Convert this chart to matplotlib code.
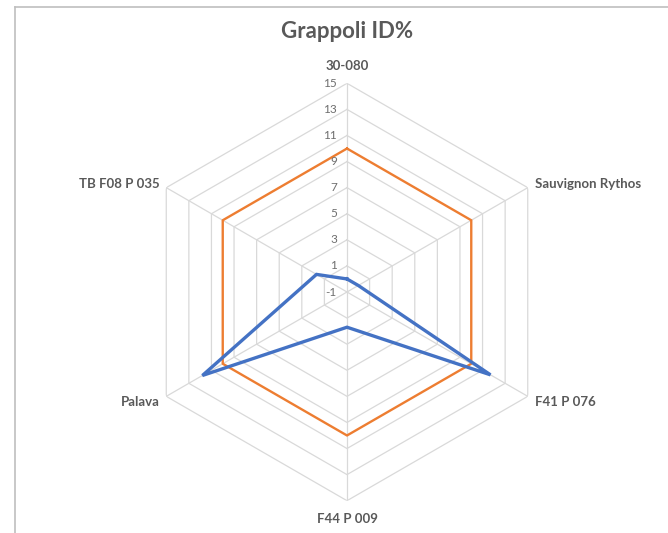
import numpy as np
import matplotlib
matplotlib.use("Agg")
import matplotlib.pyplot as plt
from matplotlib.lines import Line2D

categories = ["30-080", "Sauvignon Rythos", "F41 P 076", "F44 P 009", "Palava", "TB F08 P 035"]
series_orange = [10, 10, 10, 10, 10, 10]
series_blue = [0, 0, 11.7, 1.7, 11.8, 1.7]
tick_values = [-1, 1, 3, 5, 7, 9, 11, 13, 15]
tick_labels = ["-1", "1", "3", "5", "7", "9", "11", "13", "15"]
title = "Grappoli ID%"

plt.rcParams['font.family'] = ['Lato', 'DejaVu Sans']
TXT = "#595959"
GRID = "#d9d9d9"

W, H = 668, 533
fig = plt.figure(figsize=(W / 100, H / 100), dpi=100)

cx, cy, R = 347, 292, 208.7
ax = fig.add_axes([(cx - R) / W, (H - cy - R) / H, 2 * R / W, 2 * R / H], projection='polar')
ax.set_theta_offset(np.pi / 2)
ax.set_theta_direction(-1)
rmin, rmax = tick_values[0], tick_values[-1]
ax.set_ylim(rmin, rmax)
ax.grid(False)
ax.spines['polar'].set_visible(False)
ax.set_xticks([])
ax.set_yticks([])
ax.patch.set_alpha(0)

n = len(categories)
theta = np.arange(n) * 2 * np.pi / n
theta_closed = np.append(theta, theta[0])

# hexagonal gridlines
for v in tick_values[1:]:
    ax.plot(theta_closed, [v] * (n + 1), color=GRID, lw=0.9, zorder=1)
# spokes
for t in theta:
    ax.plot([t, t], [rmin, rmax], color=GRID, lw=0.9, zorder=1)

ax.plot(theta_closed, series_orange + [series_orange[0]], color="#ED7D31", lw=1.7, zorder=3)
ax.plot(theta_closed, series_blue + [series_blue[0]], color="#4472C4", lw=2.4, zorder=4,
        solid_joinstyle='miter')

# tick labels
for v, lab in zip(tick_values, tick_labels):
    ax.annotate(lab, xy=(0, v), xytext=(-10, 0), textcoords='offset pixels',
                ha='right', va='center', fontsize=8.5, color="#6e6e6e", annotation_clip=False)

# category labels
offsets = [(0, 17, 'center'), (7, 4, 'left'), (7, -6, 'left'),
           (0, -18, 'center'), (-7, -6, 'right'), (-7, 4, 'right')]
for t, lab, (dx, dy, ha) in zip(theta, categories, offsets):
    ax.annotate(lab, xy=(t, rmax), xytext=(dx, dy), textcoords='offset pixels',
                ha=ha, va='center', fontsize=9.5, fontweight='bold', color=TXT,
                annotation_clip=False)

fig.text(cx / W, 1 - 32 / H, title, ha='center', va='center', fontsize=16,
         fontweight='bold', color=TXT)

# chart border
fig.add_artist(Line2D([15 / W, 15 / W], [0, 1 - 7 / H], transform=fig.transFigure,
                      color="#bfbfbf", lw=1.2))
fig.add_artist(Line2D([15 / W, 1], [1 - 7 / H, 1 - 7 / H], transform=fig.transFigure,
                      color="#bfbfbf", lw=1.2))

fig.savefig("out.png", dpi=100)
